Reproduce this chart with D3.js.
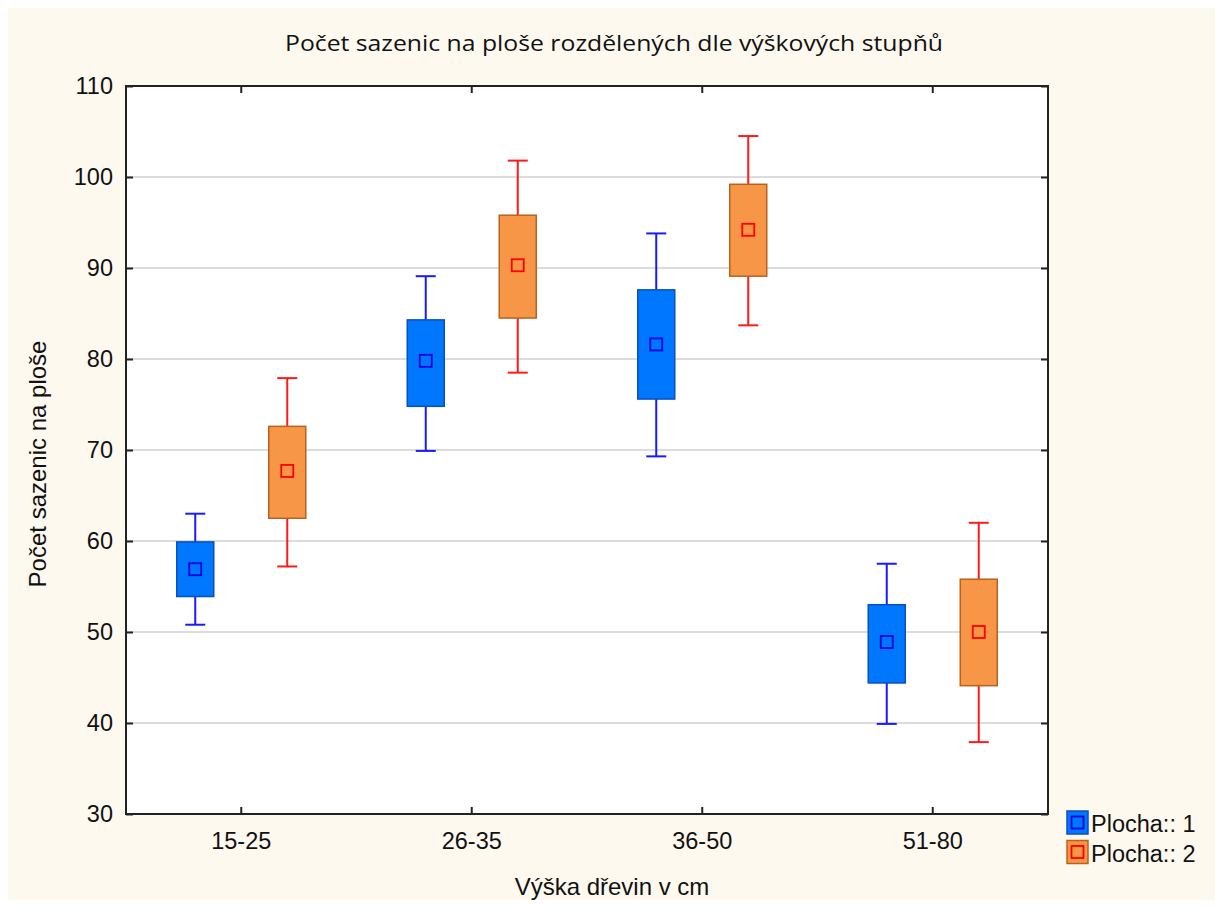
<!DOCTYPE html>
<html>
<head>
<meta charset="utf-8">
<script src="https://cdn.jsdelivr.net/npm/d3@7"></script>
<style>
  html, body { margin: 0; padding: 0; background: #ffffff; }
  svg { display: block; }
</style>
</head>
<body>
<svg id="chart" width="1223" height="908"></svg>
<script>
// ---- data ----
const categories = ["15-25", "26-35", "36-50", "51-80"];
const seriesNames = ["Plocha:: 1", "Plocha:: 2"];
// per series, per category
const meanValues = [
  [56.9, 79.8, 81.6, 48.9],
  [67.7, 90.3, 94.2, 50.0]
];
const boxLow = [
  [53.9, 74.8, 75.6, 44.4],
  [62.5, 84.5, 89.1, 44.1]
];
const boxHigh = [
  [59.9, 84.3, 87.6, 53.0],
  [72.6, 95.8, 99.2, 55.8]
];
const whiskerLow = [
  [50.8, 69.9, 69.3, 39.9],
  [57.2, 78.5, 83.7, 37.9]
];
const whiskerHigh = [
  [63.0, 89.1, 93.8, 57.5],
  [77.9, 101.8, 104.5, 62.0]
];
const yTicks = [30, 40, 50, 60, 70, 80, 90, 100, 110];

const title = "Počet sazenic na ploše rozdělených dle výškových stupňů";
const xTitle = "Výška dřevin v cm";
const yTitle = "Počet sazenic na ploše";

// ---- styles ----
const boxFill = ["#0077FF", "#F79646"];
const boxStroke = ["#0A4FC0", "#B8621E"];
const whiskerColor = ["#1A1AFF", "#FF1A1A"];
const meanColor = ["#0000E0", "#FF0000"];
const font = "'Liberation Sans', Arial, sans-serif";

const svg = d3.select("#chart");
const W = 1223, H = 908;
const plot = { left: 126, right: 1048, top: 86, bottom: 814 };

// backgrounds
svg.append("rect").attr("x", 0).attr("y", 0).attr("width", W).attr("height", H).attr("fill", "#ffffff");
svg.append("rect").attr("x", 8).attr("y", 8).attr("width", 1207).attr("height", 892).attr("fill", "#FEF9EF");
svg.append("rect").attr("x", plot.left).attr("y", plot.top)
  .attr("width", plot.right - plot.left).attr("height", plot.bottom - plot.top).attr("fill", "#ffffff");

const x = d3.scaleBand().domain(categories).range([plot.left, plot.right]).padding(0);
const y = d3.scaleLinear().domain([30, 110]).range([plot.bottom, plot.top]);
const groupOffset = d3.scalePoint().domain([0, 1]).range([-46, 46]);

// gridlines
svg.append("g").selectAll("line").data(yTicks.filter(t => t > 30 && t < 110)).join("line")
  .attr("x1", plot.left).attr("x2", plot.right)
  .attr("y1", d => y(d)).attr("y2", d => y(d))
  .attr("stroke", "#DCDCDC").attr("stroke-width", 2);

// axes (ticks inward)
const tickLen = 7;
const gLeft = svg.append("g").attr("transform", `translate(${plot.left},0)`)
  .call(d3.axisLeft(y).tickValues(yTicks).tickSize(-tickLen).tickPadding(13));
const gRight = svg.append("g").attr("transform", `translate(${plot.right},0)`)
  .call(d3.axisRight(y).tickValues(yTicks).tickSize(-tickLen).tickFormat(""));
const gBottom = svg.append("g").attr("transform", `translate(0,${plot.bottom})`)
  .call(d3.axisBottom(x).tickSize(-tickLen).tickPadding(18));
const gTop = svg.append("g").attr("transform", `translate(0,${plot.top})`)
  .call(d3.axisTop(x).tickSize(-tickLen).tickFormat(""));

[gLeft, gRight, gBottom, gTop].forEach(g => {
  g.select(".domain").remove();
  g.selectAll(".tick line").attr("stroke", "#222").attr("stroke-width", 2);
  g.selectAll("text").attr("font-family", font).attr("font-size", 23.5).attr("fill", "#111");
});

// border
svg.append("rect").attr("x", plot.left).attr("y", plot.top)
  .attr("width", plot.right - plot.left).attr("height", plot.bottom - plot.top)
  .attr("fill", "none").attr("stroke", "#222").attr("stroke-width", 2);

// boxes
const boxW = 37, capW = 20, meanS = 12, wW = 2;
seriesNames.forEach((s, si) => {
  const g = svg.append("g");
  const data = categories.map((c, ci) => ({
    c, cx: x(c) + x.bandwidth() / 2 + groupOffset(si),
    mean: meanValues[si][ci], lo: boxLow[si][ci], hi: boxHigh[si][ci],
    wlo: whiskerLow[si][ci], whi: whiskerHigh[si][ci]
  }));
  // whisker lines
  g.selectAll(".wu").data(data).join("line")
    .attr("x1", d => d.cx).attr("x2", d => d.cx)
    .attr("y1", d => y(d.whi)).attr("y2", d => y(d.hi))
    .attr("stroke", whiskerColor[si]).attr("stroke-width", wW);
  g.selectAll(".wl").data(data).join("line")
    .attr("x1", d => d.cx).attr("x2", d => d.cx)
    .attr("y1", d => y(d.lo)).attr("y2", d => y(d.wlo))
    .attr("stroke", whiskerColor[si]).attr("stroke-width", wW);
  g.selectAll(".cu").data(data).join("line")
    .attr("x1", d => d.cx - capW / 2).attr("x2", d => d.cx + capW / 2)
    .attr("y1", d => y(d.whi)).attr("y2", d => y(d.whi))
    .attr("stroke", whiskerColor[si]).attr("stroke-width", wW);
  g.selectAll(".cl").data(data).join("line")
    .attr("x1", d => d.cx - capW / 2).attr("x2", d => d.cx + capW / 2)
    .attr("y1", d => y(d.wlo)).attr("y2", d => y(d.wlo))
    .attr("stroke", whiskerColor[si]).attr("stroke-width", wW);
  // box
  g.selectAll(".box").data(data).join("rect")
    .attr("x", d => d.cx - boxW / 2).attr("width", boxW)
    .attr("y", d => y(d.hi)).attr("height", d => y(d.lo) - y(d.hi))
    .attr("fill", boxFill[si]).attr("stroke", boxStroke[si]).attr("stroke-width", 1.5);
  // mean marker
  g.selectAll(".mean").data(data).join("rect")
    .attr("x", d => d.cx - meanS / 2).attr("y", d => y(d.mean) - meanS / 2)
    .attr("width", meanS).attr("height", meanS)
    .attr("fill", "none").attr("stroke", meanColor[si]).attr("stroke-width", 1.8);
});

// legend
const leg = svg.append("g");
seriesNames.forEach((s, i) => {
  const ly = 811 + i * 29.5;
  leg.append("rect").attr("x", 1067).attr("y", ly).attr("width", 21).attr("height", 23)
    .attr("fill", boxFill[i]).attr("stroke", boxStroke[i]).attr("stroke-width", 1.5);
  leg.append("rect").attr("x", 1071.5).attr("y", ly + 5.5).attr("width", 12).attr("height", 12)
    .attr("fill", "none").attr("stroke", meanColor[i]).attr("stroke-width", 1.8);
  leg.append("text").attr("x", 1091).attr("y", ly + 21)
    .attr("font-family", font).attr("font-size", 23.5).attr("fill", "#111").text(s);
});

// titles
svg.append("text").attr("x", 614).attr("y", 51).attr("text-anchor", "middle")
  .attr("font-family", "'Open Sans', 'Liberation Sans', sans-serif").attr("font-size", 22)
  .attr("textLength", 658).attr("lengthAdjust", "spacingAndGlyphs")
  .attr("fill", "#111").text(title);
svg.append("text").attr("x", 612).attr("y", 895).attr("text-anchor", "middle")
  .attr("font-family", font).attr("font-size", 24).attr("fill", "#111").text(xTitle);
svg.append("text").attr("transform", "translate(46,464) rotate(-90)").attr("text-anchor", "middle")
  .attr("font-family", font).attr("font-size", 24).attr("fill", "#111").text(yTitle);
</script>
</body>
</html>
